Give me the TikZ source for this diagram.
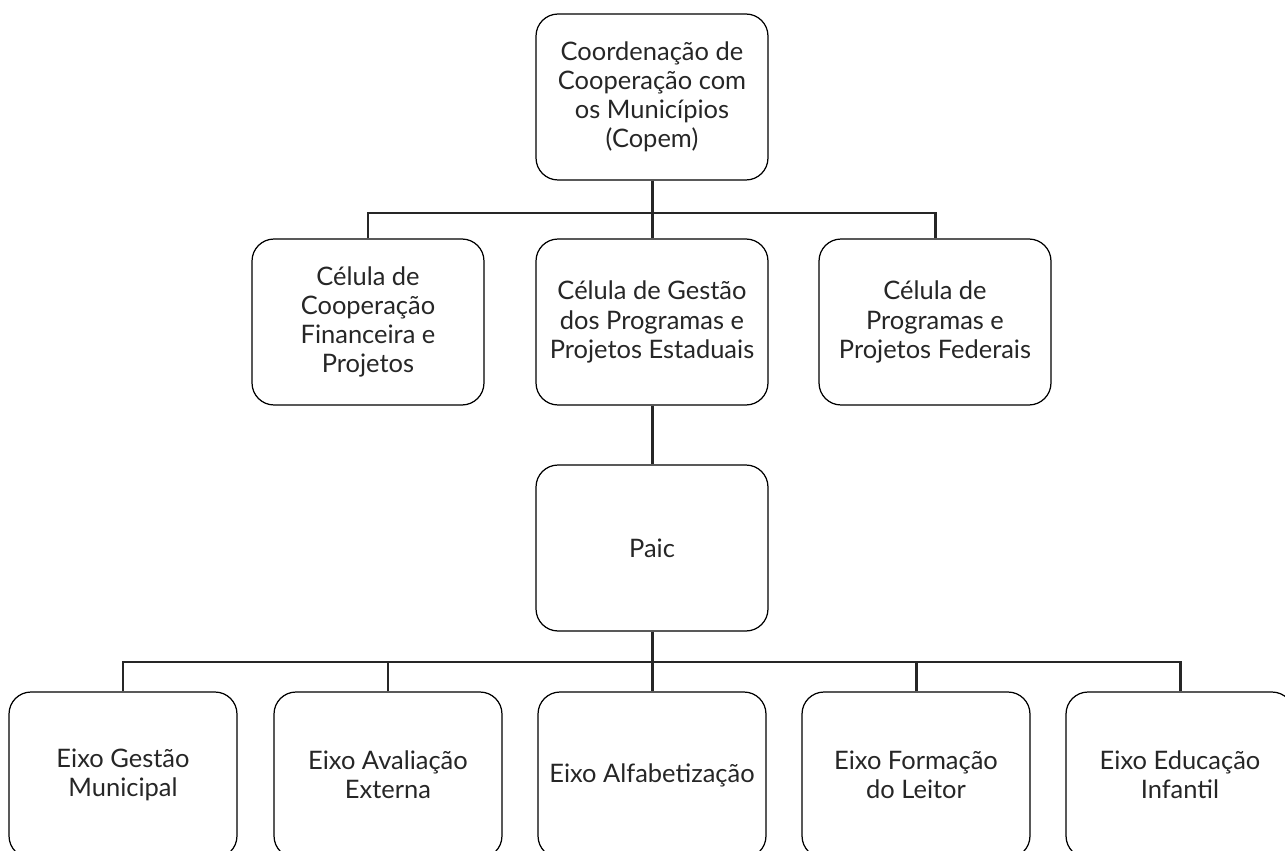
\documentclass[tikz,border=0pt]{standalone}
\usepackage{fontspec}
\setmainfont{Lato}
\usepackage{tikz}

\begin{document}
\begin{tikzpicture}[x=0.02cm, y=-0.02cm,
    orgbox/.style={draw, rounded corners=0.44cm, line width=0.7pt, align=center,
        font=\fontsize{14.5}{16.6}\selectfont, text=black!85,
        minimum width=4.64cm, minimum height=3.32cm, inner sep=0pt},
    eixobox/.style={orgbox, minimum width=4.56cm},
    link/.style={line width=1.7pt, black!85}]

\clip (0,0) rectangle (1285,851);

% Coordenacao
\node[orgbox] (copem) at (652,97) {Coordenação de\\Cooperação com\\os Municípios\\(Copem)};

% Celulas
\node[orgbox] (celfin) at (368,322) {Célula de\\Cooperação\\Financeira e\\Projetos};
\node[orgbox] (celest) at (652,322) {Célula de Gestão\\dos Programas e\\Projetos Estaduais};
\node[orgbox] (celfed) at (935,322) {Célula de\\Programas e\\Projetos Federais};

% Paic
\node[orgbox] (paic) at (652,548) {Paic};

% Eixos
\node[eixobox] (eixogest) at (123,775) {Eixo Gestão\\Municipal};
\node[eixobox] (eixoaval) at (388,775) {Eixo Avaliação\\Externa};
\node[eixobox] (eixoalfa) at (652,775) {Eixo Alfabetização};
\node[eixobox] (eixoform) at (916,775) {Eixo Formação\\do Leitor};
\node[eixobox] (eixoinf) at (1180,775) {Eixo Educação\\Infantil};

% Bus coordinates
\coordinate (bustop) at (652,213);
\coordinate (busbot) at (652,662);

% Lines
\draw[link] (copem.south) -- (bustop);
\draw[link] (celfin.north) |- (bustop) -| (celfed.north);
\draw[link] (bustop) -- (celest.north);
\draw[link] (celest.south) -- (paic.north);

\draw[link] (paic.south) -- (busbot);
\draw[link] (eixogest.north) |- (busbot) -| (eixoinf.north);
\draw[link] (eixoaval.north) |- (busbot);
\draw[link] (eixoform.north) |- (busbot);
\draw[link] (busbot) -- (eixoalfa.north);
\end{tikzpicture}
\end{document}
